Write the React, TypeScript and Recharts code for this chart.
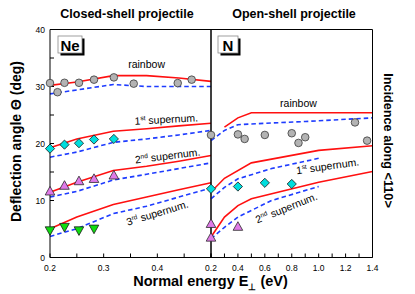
import React from 'react';
import { ComposedChart, Line, Scatter, XAxis, YAxis, ReferenceDot } from 'recharts';

// ---------- Closed-shell projectile (Ne) ----------
const neCurveE = [0.2, 0.25, 0.318, 0.38, 0.44, 0.5];
const neRainbowTheory = [30.2, 30.8, 31.9, 31.9, 31.5, 30.9];
const neRainbowDashed = [28.7, 29.4, 30.35, 30.0, 30.0, 30.0];
const ne1stTheory = [19.25, 20.8, 22.15, 22.6, 23.1, 23.55];
const ne1stDashed = [17.6, 18.5, 20.2, 20.8, 21.5, 22.3];
const ne2ndTheory = [11.45, 13.2, 15.25, 16.0, 16.9, 17.9];
const ne2ndDashed = [10.6, 11.6, 13.6, 14.6, 15.6, 16.6];
const ne3rdTheory = [5.05, 7.1, 9.3, 10.6, 11.9, 13.1];
const ne3rdDashed = [3.7, 5.05, 7.7, 9.0, 10.6, 12.2];

const neRainbowExpE = [0.2, 0.214, 0.227, 0.254, 0.282, 0.319, 0.356, 0.438, 0.464];
const neRainbowExp = [30.6, 29.0, 30.65, 30.65, 31.2, 31.6, 30.5, 30.6, 31.2];
const neSupExpE = [0.2, 0.227, 0.254, 0.282, 0.319];
const ne1stExp = [19.1, 19.8, 20.05, 20.7, 20.8];
const ne2ndExp = [11.6, 12.6, 13.4, 13.8, 14.4];
const ne3rdExpE = [0.2, 0.227, 0.254, 0.282];
const ne3rdExp = [4.75, 5.35, 4.75, 5.05];

// ---------- Open-shell projectile (N) ----------
const nRainbowTheoryE = [0.3, 0.4, 0.5, 1.4];
const nRainbowTheory = [22.86, 24.5, 25.4, 25.4];
const nRainbowDashedE = [0.2, 0.3, 0.4, 0.65, 0.9, 1.4];
const nRainbowDashed = [20.5, 22.3, 23.3, 23.6, 23.86, 24.5];
const n1stTheoryE = [0.2, 0.3, 0.5, 1.0, 1.4];
const n1stTheory = [11.5, 13.9, 16.6, 18.8, 19.6];
const n1stDashedE = [0.2, 0.3, 0.4, 0.65, 1.0];
const n1stDashed = [10.3, 12.3, 13.8, 15.6, 17.4];
const n2ndTheoryE = [0.2, 0.3, 0.4, 0.5, 1.0, 1.4];
const n2ndTheory = [3.6, 7.1, 9.1, 10.3, 13.2, 15.1];
const n2ndDashedE = [0.2, 0.3, 0.4, 0.65, 1.0];
const n2ndDashed = [3.3, 5.3, 7.1, 10.0, 12.45];

const nRainbowExpE = [0.2, 0.4, 0.45, 0.6, 0.8, 0.85, 0.9, 1.27, 1.36];
const nRainbowExp = [21.5, 21.6, 20.8, 21.5, 21.8, 20.1, 21.1, 23.7, 20.5];
const n1stExpE = [0.2, 0.4, 0.6, 0.8];
const n1stExp = [12.05, 12.45, 13.1, 12.9];
const n2ndExpE = [0.2, 0.2, 0.4];
const n2ndExp = [5.9, 3.5, 5.4];

// ---------- Axes ----------
const yTicks = [0, 5, 10, 15, 20, 25, 30, 35, 40];
const yLabels = [0, 10, 20, 30, 40];
const neTicks = [0.2, 0.25, 0.3, 0.35, 0.4, 0.45, 0.5];
const neLabels = [0.2, 0.3, 0.4];
const nTicks = [0.2, 0.3, 0.4, 0.5, 0.6, 0.7, 0.8, 0.9, 1.0, 1.1, 1.2, 1.3, 1.4];
const nLabels = [0.2, 0.4, 0.6, 0.8, 1.0, 1.2, 1.4];

const zip = (xs: number[], ys: number[]) => xs.map((x, i) => ({ x, y: ys[i] }));

const RED = '#ff1010';
const BLUE = '#1e3cff';
const FONT = '"Liberation Sans", Arial, Helvetica, sans-serif';

const has = (arr: number[], v: number) => arr.some((a) => Math.abs(a - v) < 1e-6);

const CircleMark = (p: any) => (
  <circle cx={p.cx} cy={p.cy} r={3.8} fill="#b3b3b3" stroke="#3a3a3a" strokeWidth={0.8} />
);
const DiamondMark = (p: any) => (
  <polygon
    points={`${p.cx},${p.cy - 4.6} ${p.cx + 4.6},${p.cy} ${p.cx},${p.cy + 4.6} ${p.cx - 4.6},${p.cy}`}
    fill="#00dede"
    stroke="#1a1a1a"
    strokeWidth={0.8}
  />
);
const TriUpMark = (p: any) => (
  <polygon
    points={`${p.cx},${p.cy - 5} ${p.cx + 4.8},${p.cy + 3.6} ${p.cx - 4.8},${p.cy + 3.6}`}
    fill="#e07ae8"
    stroke="#2a2a2a"
    strokeWidth={0.8}
  />
);
const TriDownMark = (p: any) => (
  <polygon
    points={`${p.cx},${p.cy + 5} ${p.cx + 4.8},${p.cy - 3.6} ${p.cx - 4.8},${p.cy - 3.6}`}
    fill="#10dd10"
    stroke="#1a1a1a"
    strokeWidth={0.8}
  />
);

const annot = (main: string, sup: string | null, rest: string, rot: number) => (p: any) => (
  <text
    x={p.cx}
    y={p.cy}
    textAnchor="middle"
    fontSize={10.5}
    fill="#000"
    fontFamily={FONT}
    transform={`rotate(${rot} ${p.cx} ${p.cy})`}
  >
    {main}
    {sup ? (
      <tspan fontSize={6.5} dy={-4}>
        {sup}
      </tspan>
    ) : null}
    {sup ? <tspan dy={4}>{rest}</tspan> : rest}
  </text>
);

const axisCommon = {
  axisLine: { stroke: '#000', strokeWidth: 1 },
  tickLine: { stroke: '#000', strokeWidth: 1 },
  tickSize: -4,
  interval: 0 as const,
};

const lineProps = (color: string, dashed: boolean) => ({
  type: 'linear' as const,
  dataKey: 'y',
  stroke: color,
  strokeWidth: 1.6,
  strokeDasharray: dashed ? '4.5 3' : undefined,
  dot: false,
  activeDot: false,
  isAnimationActive: false,
  xAxisId: 'b',
  yAxisId: 'l',
});

const scatterProps = { dataKey: 'y', xAxisId: 'b', yAxisId: 'l', isAnimationActive: false };

function Panel(props: {
  margin: any;
  domain: [number, number];
  ticks: number[];
  labels: number[];
  showY: boolean;
  children: React.ReactNode;
}) {
  const { margin, domain, ticks, labels, showY, children } = props;
  return (
    <ComposedChart width={415} height={294} margin={margin}>
      <XAxis
        xAxisId="b"
        type="number"
        dataKey="x"
        orientation="bottom"
        domain={domain}
        ticks={ticks}
        height={20}
        tickMargin={11}
        tick={{ fontSize: 8.5, fill: '#000', fontFamily: FONT }}
        tickFormatter={(v: number) => (has(labels, v) ? v.toFixed(1) : '')}
        {...axisCommon}
      />
      <XAxis
        xAxisId="t"
        type="number"
        dataKey="x"
        orientation="top"
        domain={domain}
        ticks={ticks}
        height={2}
        tick={false}
        {...axisCommon}
      />
      <YAxis
        yAxisId="l"
        type="number"
        domain={[0, 40]}
        ticks={yTicks}
        width={showY ? 20 : 4}
        tickMargin={9}
        tick={showY ? { fontSize: 8.5, fill: '#000', fontFamily: FONT } : false}
        tickFormatter={(v: number) => (has(yLabels, v) ? String(v) : '')}
        {...axisCommon}
      />
      <YAxis
        yAxisId="r"
        type="number"
        orientation="right"
        domain={[0, 40]}
        ticks={yTicks}
        width={4}
        tick={false}
        {...axisCommon}
      />
      {children}
    </ComposedChart>
  );
}

export default function App() {
  return (
    <div
      style={{
        position: 'absolute',
        left: 0,
        top: 0,
        width: 415,
        height: 294,
        background: '#fff',
        fontFamily: FONT,
      }}
    >
      <div style={{ position: 'absolute', left: 0, top: 0 }}>
        <Panel
          margin={{ top: 27.5, right: 200, left: 30, bottom: 16.5 }}
          domain={[0.2, 0.5]}
          ticks={neTicks}
          labels={neLabels}
          showY={true}
        >
          <Line data={zip(neCurveE, neRainbowTheory)} {...lineProps(RED, false)} />
          <Line data={zip(neCurveE, neRainbowDashed)} {...lineProps(BLUE, true)} />
          <Line data={zip(neCurveE, ne1stTheory)} {...lineProps(RED, false)} />
          <Line data={zip(neCurveE, ne1stDashed)} {...lineProps(BLUE, true)} />
          <Line data={zip(neCurveE, ne2ndTheory)} {...lineProps(RED, false)} />
          <Line data={zip(neCurveE, ne2ndDashed)} {...lineProps(BLUE, true)} />
          <Line data={zip(neCurveE, ne3rdTheory)} {...lineProps(RED, false)} />
          <Line data={zip(neCurveE, ne3rdDashed)} {...lineProps(BLUE, true)} />
          <Scatter data={zip(neRainbowExpE, neRainbowExp)} shape={CircleMark} {...scatterProps} />
          <Scatter data={zip(neSupExpE, ne1stExp)} shape={DiamondMark} {...scatterProps} />
          <Scatter data={zip(neSupExpE, ne2ndExp)} shape={TriUpMark} {...scatterProps} />
          <Scatter data={zip(ne3rdExpE, ne3rdExp)} shape={TriDownMark} {...scatterProps} />
          <ReferenceDot xAxisId="b" yAxisId="l" x={0.38} y={33.2} shape={annot('rainbow', null, '', 0)} />
          <ReferenceDot xAxisId="b" yAxisId="l" x={0.417} y={23.6} shape={annot('1', 'st', ' supernum.', -3)} />
          <ReferenceDot xAxisId="b" yAxisId="l" x={0.42} y={17.2} shape={annot('2', 'nd', ' supernum.', -7)} />
          <ReferenceDot xAxisId="b" yAxisId="l" x={0.402} y={7.2} shape={annot('3', 'rd', ' supernum.', -17)} />
        </Panel>
      </div>
      <div style={{ position: 'absolute', left: 0, top: 0 }}>
        <Panel
          margin={{ top: 27.5, right: 38.5, left: 207, bottom: 16.5 }}
          domain={[0.2, 1.4]}
          ticks={nTicks}
          labels={nLabels}
          showY={false}
        >
          <Line data={zip(nRainbowTheoryE, nRainbowTheory)} {...lineProps(RED, false)} />
          <Line data={zip(nRainbowDashedE, nRainbowDashed)} {...lineProps(BLUE, true)} />
          <Line data={zip(n1stTheoryE, n1stTheory)} {...lineProps(RED, false)} />
          <Line data={zip(n1stDashedE, n1stDashed)} {...lineProps(BLUE, true)} />
          <Line data={zip(n2ndTheoryE, n2ndTheory)} {...lineProps(RED, false)} />
          <Line data={zip(n2ndDashedE, n2ndDashed)} {...lineProps(BLUE, true)} />
          <Scatter data={zip(nRainbowExpE, nRainbowExp)} shape={CircleMark} {...scatterProps} />
          <Scatter data={zip(n1stExpE, n1stExp)} shape={DiamondMark} {...scatterProps} />
          <Scatter data={zip(n2ndExpE, n2ndExp)} shape={TriUpMark} {...scatterProps} />
          <ReferenceDot xAxisId="b" yAxisId="l" x={0.85} y={26.4} shape={annot('rainbow', null, '', 0)} />
          <ReferenceDot xAxisId="b" yAxisId="l" x={1.07} y={15.4} shape={annot('1', 'st', ' supernum.', -8)} />
          <ReferenceDot xAxisId="b" yAxisId="l" x={0.77} y={8.1} shape={annot('2', 'nd', ' supernum.', -22)} />
        </Panel>
      </div>
      <svg
        width={415}
        height={294}
        style={{ position: 'absolute', left: 0, top: 0, pointerEvents: 'none' }}
        fontFamily={FONT}
      >
        <text x={127} y={18} textAnchor="middle" fontSize={12.5} fontWeight="bold" fill="#000">
          Closed-shell projectile
        </text>
        <text x={294} y={18} textAnchor="middle" fontSize={12.5} fontWeight="bold" fill="#000">
          Open-shell projectile
        </text>
        <text
          x={21}
          y={141.5}
          textAnchor="middle"
          fontSize={14}
          fontWeight="bold"
          fill="#000"
          transform="rotate(-90 21 141.5)"
        >
          Deflection angle Θ (deg)
        </text>
        <text x={210.5} y={286} textAnchor="middle" fontSize={14.5} fontWeight="bold" fill="#000">
          Normal energy E<tspan fontSize={9} dy={4}>⊥</tspan>
          <tspan dy={-4}> (eV)</tspan>
        </text>
        <text
          x={384}
          y={140.5}
          textAnchor="middle"
          fontSize={12.7}
          fontWeight="bold"
          fill="#000"
          transform="rotate(90 384 140.5)"
        >
          Incidence along &lt;110&gt;
        </text>
        {/* element labels */}
        <rect x={60.5} y={38.5} width={24} height={17} fill="#000" />
        <rect x={58} y={36} width={24} height={17} fill="#fff" stroke="#888" strokeWidth={0.8} />
        <text x={70} y={50.5} textAnchor="middle" fontSize={15} fontWeight="bold" fill="#000">
          Ne
        </text>
        <rect x={220.5} y={38.5} width={20} height={17} fill="#000" />
        <rect x={218} y={36} width={20} height={17} fill="#fff" stroke="#888" strokeWidth={0.8} />
        <text x={228} y={50.5} textAnchor="middle" fontSize={15} fontWeight="bold" fill="#000">
          N
        </text>
      </svg>
    </div>
  );
}
